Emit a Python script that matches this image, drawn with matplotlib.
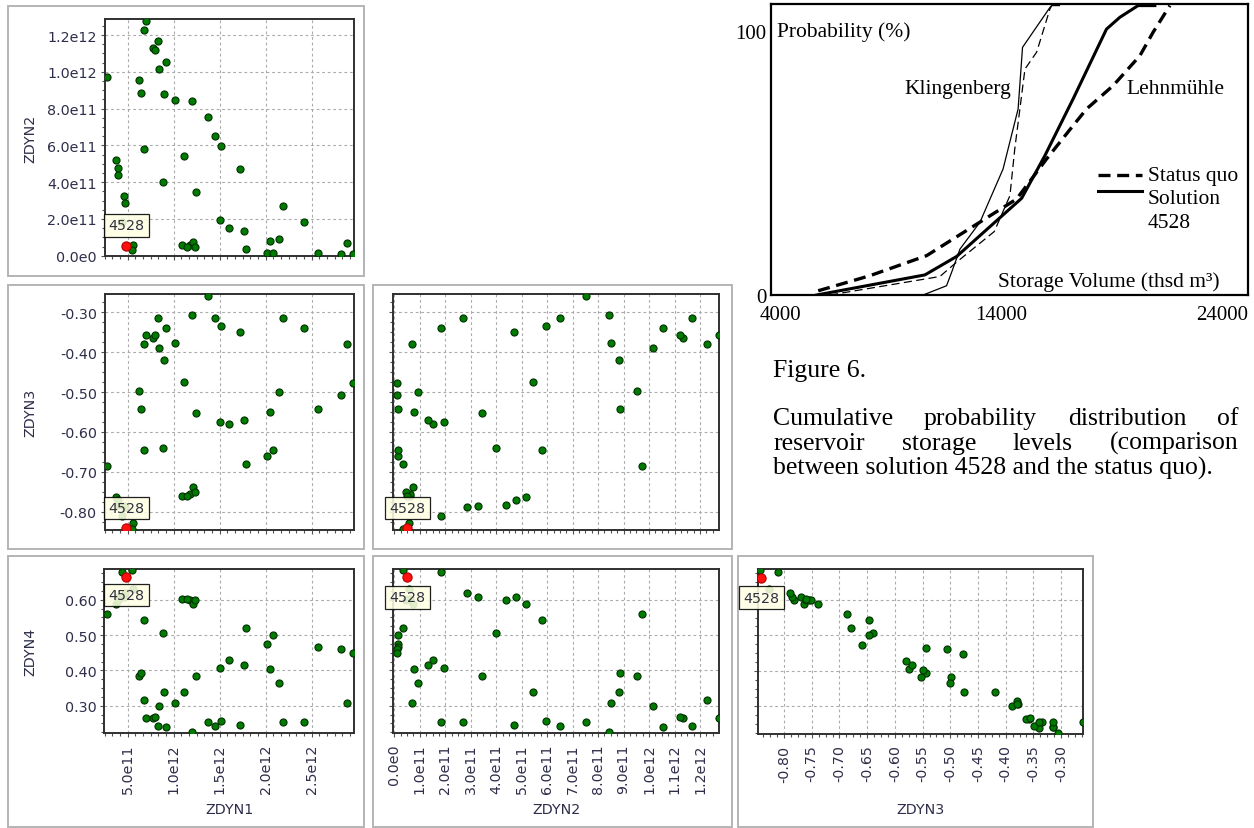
import numpy as np
import matplotlib
matplotlib.use('Agg')
import matplotlib.pyplot as plt
from matplotlib.ticker import FixedLocator, FuncFormatter, AutoMinorLocator, FormatStrFormatter
from matplotlib.patches import Rectangle

W, H, DPI = 1254, 829, 100

# Soluciones (una por punto): ZDYN1..ZDYN4
ZDYN1 = [2.72e11, 6.96e11, 6.80e11, 8.33e11, 7.78e11, 7.97e11, 9.16e11, 8.43e11, 6.23e11, 6.45e11,
         8.91e11, 1.017e12, 1.202e12, 1.376e12, 1.452e12, 1.511e12, 6.80e11, 1.115e12, 3.73e11, 3.95e11,
         3.97e11, 1.721e12, 8.84e11, 1.242e12, 4.60e11, 4.74e11, 2.185e12, 1.500e12, 2.416e12, 1.598e12,
         1.761e12, 5.61e11, 5.50e11, 1.087e12, 1.177e12, 1.207e12, 1.232e12, 1.148e12, 1.789e12, 2.047e12,
         2.148e12, 2.011e12, 2.083e12, 2.569e12, 2.815e12, 2.881e12, 2.946e12, 4.41e11]
ZDYN2 = [9.72e11, 1.275e12, 1.226e12, 1.170e12, 1.132e12, 1.121e12, 1.054e12, 1.016e12, 9.54e11, 8.85e11,
         8.80e11, 8.49e11, 8.41e11, 7.54e11, 6.49e11, 5.94e11, 5.80e11, 5.43e11, 5.18e11, 4.76e11,
         4.38e11, 4.69e11, 4.00e11, 3.46e11, 3.27e11, 2.87e11, 2.69e11, 1.96e11, 1.84e11, 1.53e11,
         1.33e11, 0.58e11, 0.33e11, 0.60e11, 0.60e11, 0.73e11, 0.46e11, 0.49e11, 0.35e11, 0.78e11,
         0.91e11, 0.15e11, 0.15e11, 0.15e11, 0.09e11, 0.68e11, 0.11e11, 1.83e11]
ZDYN3 = [-0.686, -0.358, -0.380, -0.314, -0.364, -0.356, -0.340, -0.389, -0.498, -0.543,
         -0.420, -0.377, -0.306, -0.260, -0.314, -0.334, -0.646, -0.475, -0.764, -0.770,
         -0.782, -0.349, -0.640, -0.552, -0.785, -0.789, -0.314, -0.574, -0.340, -0.580,
         -0.569, -0.828, -0.843, -0.760, -0.755, -0.739, -0.751, -0.761, -0.680, -0.549,
         -0.500, -0.660, -0.646, -0.543, -0.506, -0.380, -0.477, -0.810]
ZDYN4 = [0.561, 0.264, 0.316, 0.242, 0.265, 0.268, 0.239, 0.300, 0.383, 0.393,
         0.339, 0.307, 0.226, 0.255, 0.242, 0.256, 0.542, 0.339, 0.588, 0.607,
         0.600, 0.245, 0.507, 0.384, 0.607, 0.620, 0.255, 0.406, 0.255, 0.429,
         0.416, 0.630, 0.683, 0.601, 0.600, 0.588, 0.600, 0.602, 0.520, 0.403,
         0.365, 0.474, 0.500, 0.465, 0.461, 0.307, 0.448, 0.679]
# Solucion 4528 (roja)
SOL_ID = '4528'
SOL = {'ZDYN1': 4.85e11, 'ZDYN2': 0.51e11, 'ZDYN3': -0.841, 'ZDYN4': 0.663}

# Curvas de probabilidad acumulada (volumen en miles de m3, probabilidad en %)
VOL_LEHN_SQ = [5730, 8070, 10640, 12600, 14710, 16070, 17270, 17880, 19080, 20290, 20890, 21650]
PROB_LEHN_SQ = [1.6, 7.3, 14.9, 25.2, 36.3, 51.5, 64.1, 70.4, 79.2, 90.5, 99.4, 109.5]
VOL_LEHN_SOL = [5660, 10560, 12000, 14940, 15990, 17270, 18780, 19390, 20210, 20970]
PROB_LEHN_SOL = [0, 7.6, 14.6, 36.6, 52.7, 74.2, 100.6, 105.1, 109.5, 109.5]
VOL_KLING_SQ = [6260, 11240, 11990, 13700, 14410, 14630, 14860, 15090, 15620, 16220, 16300]
PROB_KLING_SQ = [0, 7.0, 12.4, 24.0, 37.6, 55.4, 70.4, 85.5, 91.9, 108.2, 109.5]
VOL_KLING_SOL = [10480, 11540, 11770, 12150, 13050, 14100, 14780, 14980, 16220, 16300, 16650]
PROB_KLING_SOL = [0, 3.5, 8.6, 17.4, 27.5, 47.7, 70.4, 93.7, 108.8, 109.5, 109.5]

VARS = {'ZDYN1': ZDYN1, 'ZDYN2': ZDYN2, 'ZDYN3': ZDYN3, 'ZDYN4': ZDYN4}
LIMS = {'ZDYN1': (2.47e11, 2.963e12), 'ZDYN2y': (-1.6e9, 1.287e12), 'ZDYN2x': (-4e9, 1.2745e12),
        'ZDYN3y': (-0.845, -0.254), 'ZDYN3x': (-0.8475, -0.26), 'ZDYN4': (0.222, 0.687)}
TICKS = {'ZDYN1': [5e11, 1e12, 1.5e12, 2e12, 2.5e12], 'ZDYN2y': [0, 2e11, 4e11, 6e11, 8e11, 1e12, 1.2e12],
         'ZDYN2x': [i * 1e11 for i in range(13)], 'ZDYN3y': [-0.8, -0.7, -0.6, -0.5, -0.4, -0.3],
         'ZDYN3x': [-0.8, -0.75, -0.7, -0.65, -0.6, -0.55, -0.5, -0.45, -0.4, -0.35, -0.3],
         'ZDYN4': [0.3, 0.4, 0.5, 0.6]}
MINOR = {'ZDYN1': 6, 'ZDYN2y': 4, 'ZDYN2x': 4, 'ZDYN3y': 4, 'ZDYN3x': 4, 'ZDYN4': 4}
TXT = '#2e2e4a'
FS = 10.3

fig = plt.figure(figsize=(W / DPI, H / DPI), dpi=DPI)
fig.patch.set_facecolor('white')


def px_axes(l, t, r, b):
    return fig.add_axes([l / W, 1 - b / H, (r - l) / W, (b - t) / H])


def marco(l, t, r, b):
    fig.add_artist(Rectangle((l / W, 1 - b / H), (r - l) / W, (b - t) / H, transform=fig.transFigure,
                             fill=False, edgecolor='#b4b4b4', lw=1.4, zorder=0))


def fmt_sci(v, pos):
    if abs(v) < 1:
        return '0.0e0'
    e = int(np.floor(np.log10(abs(v)) + 1e-9))
    return f'{v / 10 ** e:.1f}e{e}'


def panel(rect, xv, yv, xk, yk, show_x, show_y, dy):
    ax = px_axes(*rect)
    ax.set_xlim(LIMS[xk]); ax.set_ylim(LIMS[yk])
    ax.xaxis.set_major_locator(FixedLocator(TICKS[xk]))
    ax.yaxis.set_major_locator(FixedLocator(TICKS[yk]))
    ax.xaxis.set_minor_locator(AutoMinorLocator(MINOR[xk]))
    ax.yaxis.set_minor_locator(AutoMinorLocator(MINOR[yk]))
    fx = FuncFormatter(fmt_sci) if xv in ('ZDYN1', 'ZDYN2') else FormatStrFormatter('%.2f')
    fy = FuncFormatter(fmt_sci) if yv in ('ZDYN1', 'ZDYN2') else FormatStrFormatter('%.2f')
    ax.xaxis.set_major_formatter(fx); ax.yaxis.set_major_formatter(fy)
    ax.tick_params(which='both', direction='out', color='#505050', width=0.8, labelsize=FS, labelcolor=TXT)
    ax.tick_params(which='major', length=3)
    ax.tick_params(which='minor', length=2.5)
    ax.tick_params(axis='x', labelrotation=90, pad=4.5, labelbottom=show_x)
    ax.tick_params(axis='y', pad=2.5, labelleft=show_y)
    ax.grid(True, which='major', color='#ababab', lw=0.8, ls=(0, (2.5, 2.5)))
    ax.set_axisbelow(True)
    for s in ax.spines.values():
        s.set_color('#303030'); s.set_linewidth(1.4)
    ax.scatter(VARS[xv], VARS[yv], s=26, c='#007a00', edgecolors='#003000', linewidths=0.8, zorder=3)
    ax.scatter([SOL[xv]], [SOL[yv]], s=44, c='#ff1010', edgecolors='#b00000', linewidths=0.8, zorder=4)
    ax.annotate(SOL_ID, xy=(SOL[xv], SOL[yv]), xytext=(0, dy), textcoords='offset points', ha='center',
                va='center', fontsize=FS, color='#303040', annotation_clip=False, zorder=6,
                bbox=dict(boxstyle='square,pad=0.3', fc='#ffffe4', ec='black', lw=0.9, alpha=0.88))
    if show_x:
        ax.set_xlabel(xv, fontsize=FS, color=TXT, va='center')
        ax.xaxis.set_label_coords(0.5, -(810 - rect[3]) / (rect[3] - rect[1]))
    if show_y:
        ax.set_ylabel(yv, fontsize=FS, color=TXT, ha='center', va='center')
        ax.yaxis.set_label_coords(-(rect[0] - 30) / (rect[2] - rect[0]), 0.5)
    return ax


# marcos de cada ventana
marco(8, 7, 364, 277)
marco(8, 286, 364, 550)
marco(373, 286, 732, 550)
marco(8, 557, 364, 828)
marco(373, 557, 732, 828)
marco(738, 557, 1093, 828)

panel((104.5, 20, 354.3, 257), 'ZDYN1', 'ZDYN2', 'ZDYN1', 'ZDYN2y', False, True, 15)
panel((104.5, 295, 354.3, 530.7), 'ZDYN1', 'ZDYN3', 'ZDYN1', 'ZDYN3y', False, True, 14.4)
panel((393.3, 295, 719, 530.7), 'ZDYN2', 'ZDYN3', 'ZDYN2x', 'ZDYN3y', False, False, 14.4)
panel((104.3, 570, 354.3, 734.3), 'ZDYN1', 'ZDYN4', 'ZDYN1', 'ZDYN4', True, True, -12.7)
panel((393.3, 570, 719, 734.3), 'ZDYN2', 'ZDYN4', 'ZDYN2x', 'ZDYN4', True, False, -14.4)
panel((757.7, 570, 1083.3, 735), 'ZDYN3', 'ZDYN4', 'ZDYN3x', 'ZDYN4', True, False, -14.4)

# Grafica de probabilidad acumulada
SERIF = 'Liberation Serif'
axc = px_axes(770.7, 5, 1248.3, 296)
axc.set_xlim(3580, 25200); axc.set_ylim(0, 110.1)
axc.plot(VOL_LEHN_SQ, PROB_LEHN_SQ, color='black', lw=2.4, dashes=(3.6, 2.0), solid_capstyle='butt')
axc.plot(VOL_LEHN_SOL, PROB_LEHN_SOL, color='black', lw=2.2)
axc.plot(VOL_KLING_SQ, PROB_KLING_SQ, color='black', lw=0.9, dashes=(6.5, 3.5))
axc.plot(VOL_KLING_SOL, PROB_KLING_SOL, color='black', lw=0.9)
axc.set_xticks([4000, 14000, 24000])
axc.set_yticks([0, 100])
axc.tick_params(length=0, labelsize=15)
axc.tick_params(axis='x', pad=7)
axc.tick_params(axis='y', pad=3)
for lab in axc.get_xticklabels() + axc.get_yticklabels():
    lab.set_fontfamily(SERIF)
for s in axc.spines.values():
    s.set_linewidth(1.6); s.set_color('black')
kw = dict(transform=axc.transAxes, family=SERIF, fontsize=15.5, color='black', va='center', ha='left')
axc.text(0.0126, 0.908, 'Probability (%)', **kw)
axc.text(0.281, 0.708, 'Klingenberg', **kw)
axc.text(0.745, 0.708, 'Lehnmühle', **kw)
axc.text(0.4766, 0.046, 'Storage Volume (thsd m³)', **kw)
axc.plot([0.685, 0.777], [0.412, 0.412], transform=axc.transAxes, color='black', lw=2.4, dashes=(3.6, 2.0))
axc.plot([0.685, 0.777], [0.358, 0.358], transform=axc.transAxes, color='black', lw=2.2)
axc.text(0.789, 0.412, 'Status quo', **kw)
axc.text(0.789, 0.330, 'Solution', **kw)
axc.text(0.789, 0.250, SOL_ID, **kw)

# Pie de figura (justificado)
CAP_FS = 18.5
fig.text(773.3 / W, 1 - 377 / H, 'Figure 6.', family=SERIF, fontsize=CAP_FS, va='baseline', ha='left')
lineas = [('Cumulative probability distribution of', 425, True),
          ('reservoir storage levels (comparison', 450, True),
          ('between solution 4528 and the status quo).', 475, False)]
renderer = fig.canvas.get_renderer()
x_ini, x_fin = 773.3, 1238.3
for texto, base, justificar in lineas:
    if not justificar:
        fig.text(x_ini / W, 1 - base / H, texto, family=SERIF, fontsize=CAP_FS, va='baseline', ha='left')
        continue
    palabras = texto.split()
    objs = [fig.text(0, 1 - base / H, p, family=SERIF, fontsize=CAP_FS, va='baseline', ha='left')
            for p in palabras]
    anchos = [o.get_window_extent(renderer).width for o in objs]
    hueco = (x_fin - x_ini - sum(anchos)) / (len(palabras) - 1)
    x = x_ini
    for o, a in zip(objs, anchos):
        o.set_x(x / W)
        x += a + hueco

fig.savefig('out.png', dpi=DPI, facecolor='white')
